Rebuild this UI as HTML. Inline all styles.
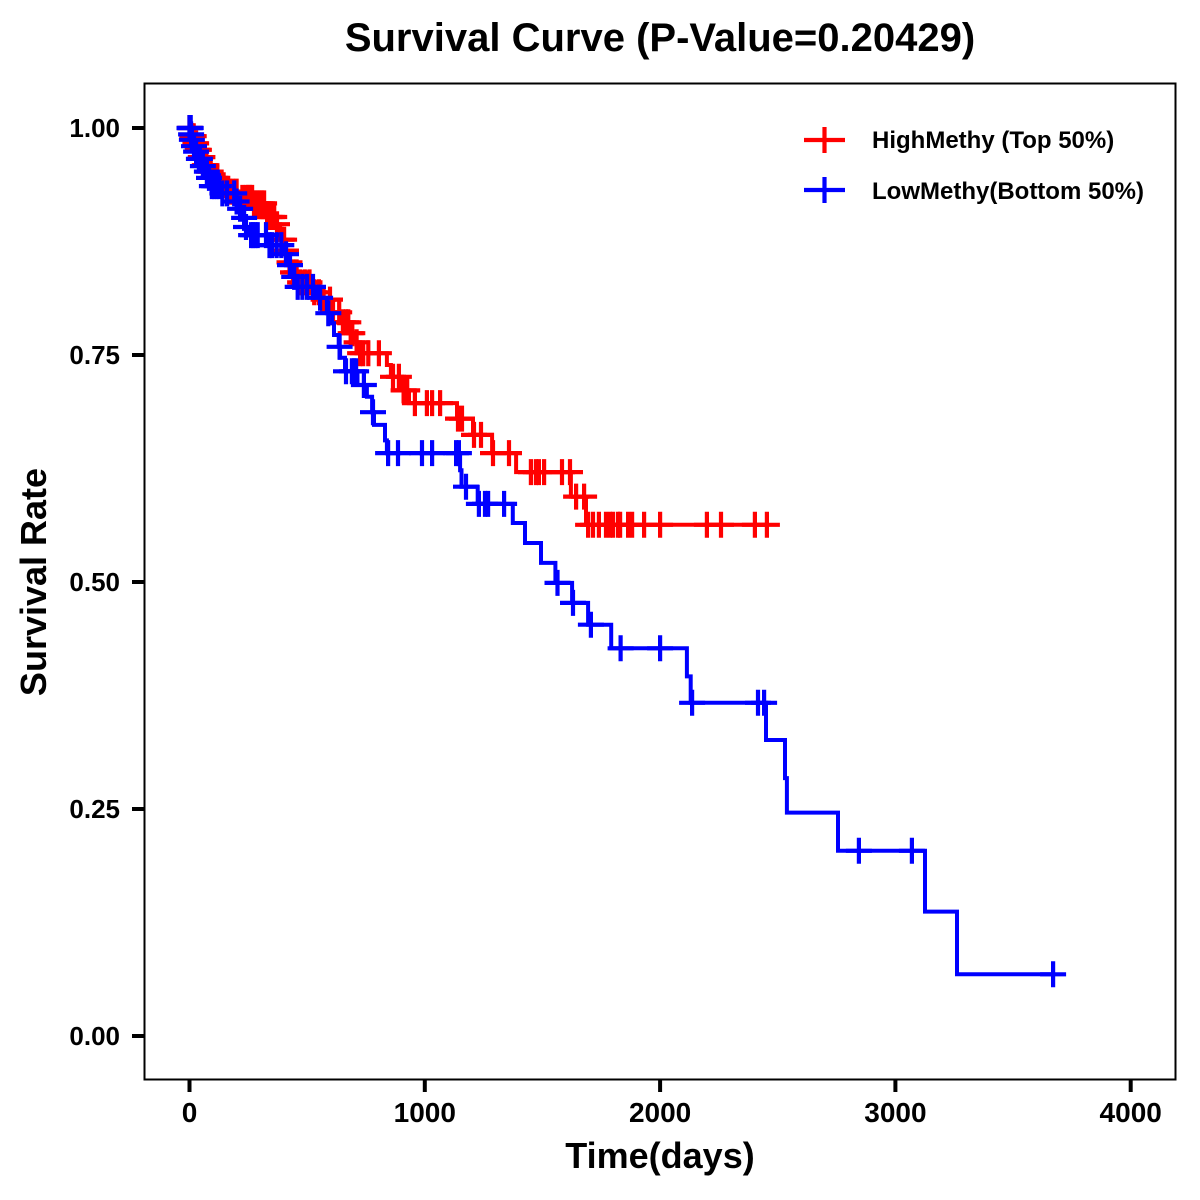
<!DOCTYPE html>
<html>
<head>
<meta charset="utf-8">
<title>Survival Curve</title>
<style>
html,body{margin:0;padding:0;background:#fff;}
svg{display:block;}
text{font-family:"Liberation Sans",Arial,sans-serif;font-weight:bold;fill:#000;}
</style>
</head>
<body>
<svg id="chart" width="1200" height="1200" viewBox="0 0 1200 1200" xmlns="http://www.w3.org/2000/svg">
  <rect x="0" y="0" width="1200" height="1200" fill="#fff"/>
  <text x="660" y="51" font-size="40" text-anchor="middle">Survival Curve (P-Value=0.20429)</text>
  <text x="660" y="1168" font-size="36" text-anchor="middle">Time(days)</text>
  <text transform="translate(46,582) rotate(-90)" font-size="36" text-anchor="middle">Survival Rate</text>
  <g id="x-ticks"></g>
  <g id="y-ticks"></g>
  <g id="series"></g>
  <rect x="144.5" y="83.5" width="1031" height="996" fill="none" stroke="#000" stroke-width="2"/>
  <g>
    <g>
      <path d="M804 140H845M824.5 127V153" fill="none" stroke="#ff0000" stroke-width="4.2"/>
      <text x="872" y="148" font-size="24">HighMethy (Top 50%)</text>
    </g>
    <g>
      <path d="M804 190H845M824.5 177V203" fill="none" stroke="#0000ff" stroke-width="4.2"/>
      <text x="872" y="199" font-size="24">LowMethy(Bottom 50%)</text>
    </g>
  </g>
</svg>
<script>
const xTickValues = [0, 1000, 2000, 3000, 4000];
const yTickValues = [0, 0.25, 0.5, 0.75, 1];
const yTickLabels = ["0.00", "0.25", "0.50", "0.75", "1.00"];

const highTimes = [0, 11, 23, 32, 45, 62, 79, 96, 121, 155, 215, 274, 326, 368, 385, 406, 419, 436, 461, 521, 563, 606, 644, 678, 699, 720, 839, 856, 903, 933, 1137, 1205, 1286, 1388, 1621, 1685];
const highSurvival = [1, 0.991, 0.983, 0.976, 0.968, 0.959, 0.952, 0.945, 0.937, 0.93, 0.923, 0.917, 0.902, 0.894, 0.877, 0.865, 0.852, 0.841, 0.83, 0.819, 0.811, 0.797, 0.786, 0.774, 0.764, 0.752, 0.739, 0.726, 0.711, 0.697, 0.68, 0.662, 0.642, 0.621, 0.594, 0.563];
const highCensorTimes = [0, 3, 12, 18, 25, 28, 35, 40, 48, 55, 65, 72, 82, 90, 100, 110, 118, 130, 145, 160, 170, 185, 200, 225, 240, 249, 257, 266, 274, 283, 292, 300, 309, 317, 330, 340, 350, 360, 372, 392, 402, 410, 425, 440, 455, 470, 490, 510, 530, 550, 570, 597, 610, 636, 652, 665, 675, 685, 692, 710, 725, 738, 760, 805, 865, 890, 910, 925, 958, 1009, 1031, 1065, 1141, 1158, 1209, 1239, 1290, 1358, 1451, 1472, 1485, 1507, 1583, 1617, 1643, 1677, 1694, 1715, 1740, 1770, 1787, 1800, 1821, 1830, 1864, 1881, 1932, 2000, 2199, 2259, 2403, 2454];

const lowTimes = [0, 6, 9, 17, 25, 36, 52, 70, 80, 90, 130, 198, 210, 227, 236, 257, 334, 402, 419, 436, 453, 538, 584, 606, 614, 634, 640, 661, 714, 754, 776, 784, 831, 839, 1150, 1156, 1225, 1374, 1426, 1494, 1555, 1626, 1694, 1792, 2114, 2130, 2450, 2531, 2539, 2756, 3126, 3262];
const lowSurvival = [1, 0.993, 0.987, 0.98, 0.974, 0.966, 0.958, 0.952, 0.945, 0.936, 0.928, 0.919, 0.911, 0.901, 0.891, 0.882, 0.871, 0.861, 0.849, 0.836, 0.825, 0.813, 0.796, 0.785, 0.772, 0.759, 0.747, 0.732, 0.717, 0.704, 0.687, 0.673, 0.656, 0.642, 0.623, 0.605, 0.586, 0.565, 0.543, 0.521, 0.499, 0.477, 0.453, 0.427, 0.396, 0.367, 0.326, 0.284, 0.246, 0.204, 0.137, 0.068];
const lowCensorTimes = [0, 3, 5, 7, 10, 19, 28, 40, 44, 57, 74, 83, 95, 105, 115, 125, 140, 160, 190, 200, 215, 232, 240, 262, 270, 280, 290, 325, 340, 350, 370, 390, 410, 427, 445, 460, 480, 500, 525, 555, 590, 638, 665, 690, 700, 708, 741, 780, 844, 886, 988, 1031, 1133, 1145, 1175, 1230, 1256, 1269, 1337, 1564, 1630, 1706, 1832, 2000, 2136, 2416, 2442, 2845, 3070, 3670];

const SVG_NS = 'http://www.w3.org/2000/svg';
function xScale(t) { return 189.5 + t * 0.2353; }
function yScale(s) { return 1036 - s * 908; }

function survivalAt(times, surv, t) {
  let value = surv[0];
  for (let i = 0; i < times.length; i++) {
    if (times[i] <= t) value = surv[i];
  }
  return value;
}

function stepPath(times, surv, endTime) {
  let d = 'M' + xScale(times[0]).toFixed(1) + ' ' + yScale(surv[0]).toFixed(1);
  for (let i = 1; i < times.length; i++) {
    d += 'H' + xScale(times[i]).toFixed(1) + 'V' + yScale(surv[i]).toFixed(1);
  }
  d += 'H' + xScale(endTime).toFixed(1);
  return d;
}

function drawSeries(parent, times, surv, censors, color, key) {
  const endTime = Math.max(times[times.length - 1], censors[censors.length - 1]);
  const line = document.createElementNS(SVG_NS, 'path');
  line.setAttribute('d', stepPath(times, surv, endTime));
  line.setAttribute('fill', 'none');
  line.setAttribute('stroke', color);
  line.setAttribute('stroke-width', '4');
  
  
  parent.appendChild(line);
  censors.forEach(function (t) {
    const cx = xScale(t);
    const cy = yScale(survivalAt(times, surv, t));
    const mark = document.createElementNS(SVG_NS, 'path');
    mark.setAttribute('d', 'M' + (cx - 13).toFixed(1) + ' ' + cy.toFixed(1) + 'H' + (cx + 13).toFixed(1) + 'M' + cx.toFixed(1) + ' ' + (cy - 13).toFixed(1) + 'V' + (cy + 13).toFixed(1));
    mark.setAttribute('fill', 'none');
    mark.setAttribute('stroke', color);
    mark.setAttribute('stroke-width', '4.2');
    
    
    parent.appendChild(mark);
  });
}

const xTickGroup = document.getElementById('x-ticks');
xTickValues.forEach(function (v) {
  const px = xScale(v);
  const tick = document.createElementNS(SVG_NS, 'line');
  tick.setAttribute('x1', px);
  tick.setAttribute('x2', px);
  tick.setAttribute('y1', 1080);
  tick.setAttribute('y2', 1092);
  tick.setAttribute('stroke', '#000');
  tick.setAttribute('stroke-width', '4');
  
  
  xTickGroup.appendChild(tick);
  const label = document.createElementNS(SVG_NS, 'text');
  label.setAttribute('x', px);
  label.setAttribute('y', 1122);
  label.setAttribute('font-size', '28');
  label.setAttribute('text-anchor', 'middle');
  
  
  label.textContent = String(v);
  xTickGroup.appendChild(label);
});

const yTickGroup = document.getElementById('y-ticks');
yTickValues.forEach(function (v, i) {
  const py = yScale(v);
  const tick = document.createElementNS(SVG_NS, 'line');
  tick.setAttribute('x1', 132);
  tick.setAttribute('x2', 144);
  tick.setAttribute('y1', py);
  tick.setAttribute('y2', py);
  tick.setAttribute('stroke', '#000');
  tick.setAttribute('stroke-width', '4');
  
  
  yTickGroup.appendChild(tick);
  const label = document.createElementNS(SVG_NS, 'text');
  label.setAttribute('x', 120);
  label.setAttribute('y', py + 9);
  label.setAttribute('font-size', '26');
  label.setAttribute('text-anchor', 'end');
  
  
  label.textContent = yTickLabels[i];
  yTickGroup.appendChild(label);
});

const seriesGroup = document.getElementById('series');
drawSeries(seriesGroup, highTimes, highSurvival, highCensorTimes, '#ff0000', 'high-methy');
drawSeries(seriesGroup, lowTimes, lowSurvival, lowCensorTimes, '#0000ff', 'low-methy');
</script>
</body>
</html>
